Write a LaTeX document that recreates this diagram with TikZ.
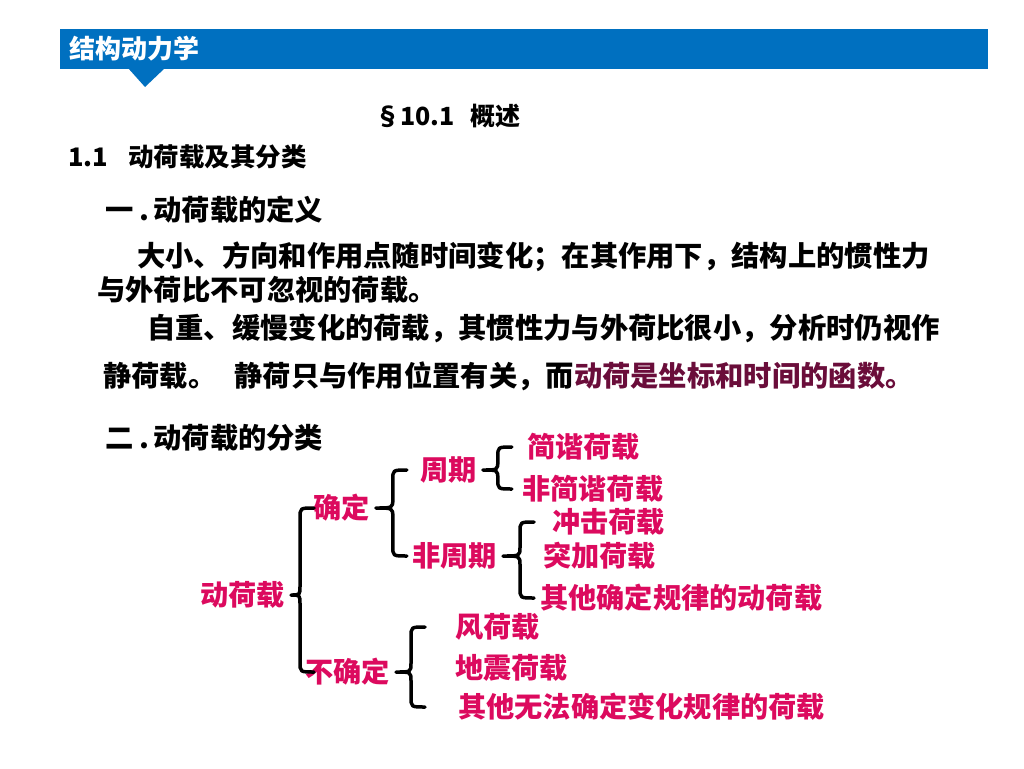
\documentclass[tikz,border=0pt]{standalone}
\usepackage{fontspec}
\setmainfont{Noto Sans CJK SC}
\usepackage{xcolor}
\usetikzlibrary{calc}

\definecolor{headblue}{HTML}{0070C0}
\definecolor{loadpink}{HTML}{DC0A5E}
\definecolor{dynmaroon}{HTML}{6A0D3A}

\tikzset{
  body/.style={anchor=west, inner sep=0pt, font=\fontsize{28.3}{34}\selectfont\bfseries},
  tree/.style={anchor=west, inner sep=0pt, text=loadpink, font=\fontsize{28.2}{34}\selectfont\bfseries},
  brace line/.style={line width=3.5pt, line cap=round, line join=round},
}

% brace from a parent node to its first and last child
\newcommand{\loadbrace}[4][15]{%
  \draw[brace line] let \p1=($(#2.east)+(6pt,0pt)$), \p2=(#3.west), \p3=(#4.west) in
    (\x1+#1pt+14pt,\y2) .. controls (\x1+#1pt,\y2) .. (\x1+#1pt,\y2-10pt)
    -- (\x1+#1pt,\y1+9pt) .. controls (\x1+#1pt,\y1) .. (\p1)
    .. controls (\x1+#1pt,\y1) .. (\x1+#1pt,\y1-9pt)
    -- (\x1+#1pt,\y3+10pt) .. controls (\x1+#1pt,\y3) .. (\x1+#1pt+14pt,\y3);}

\begin{document}
\begin{tikzpicture}[x=1pt, y=-1pt]
  \useasboundingbox[fill=white] (0,0) rectangle (1024,768);

  % header bar
  \fill[headblue] (60,29) rectangle (988,69);
  \fill[headblue] (128,68) -- (165,68) -- (145,87) -- cycle;
  \node[anchor=west, inner sep=0pt, text=white, font=\fontsize{26}{30}\selectfont\bfseries]
    (head) at (69,49) {结构动力学};

  \node[body, font=\fontsize{25}{28}\selectfont\bfseries] (sec) at (375,116) {§10.1\hspace{16pt}概述};
  \node[body, font=\fontsize{25.5}{28}\selectfont\bfseries] (sub) at (68,157) {1.1\hspace{20pt}动荷载及其分类};
  \node[body] (def) at (105,210) {一\hspace{6pt}.\hspace{4pt}动荷载的定义};

  \node[body] (l1) at (137,257) {大小、方向和作用点随时间变化；在其作用下，结构上的惯性力};
  \node[body] (l2) at (97,290) {与外荷比不可忽视的荷载。};
  \node[body] (l3) at (147,328) {自重、缓慢变化的荷载，其惯性力与外荷比很小，分析时仍视作};
  \node[body] (l4) at (103,376) {静荷载。\hspace{18pt}静荷只与作用位置有关，而\textcolor{dynmaroon}{动荷是坐标和时间的函数。}};

  \node[body] (cls) at (105,438) {二\hspace{6pt}.\hspace{4pt}动荷载的分类};

  % classification tree
  \node[tree] (dyn) at (200,595) {动荷载};
  \node[tree] (det) at (313,508) {确定};
  \node[tree] (undet) at (305,672) {不确定};
  \node[tree] (per) at (420,470) {周期};
  \node[tree] (aper) at (412,556) {非周期};
  \node[tree] (harm) at (527,447) {简谐荷载};
  \node[tree] (nharm) at (522,489) {非简谐荷载};
  \node[tree] (impact) at (552,522) {冲击荷载};
  \node[tree] (sudden) at (543,556) {突加荷载};
  \node[tree] (otherdet) at (540,598) {其他确定规律的动荷载};
  \node[tree] (wind) at (455,627) {风荷载};
  \node[tree] (quake) at (455,668) {地震荷载};
  \node[tree] (otherund) at (458,707) {其他无法确定变化规律的荷载};

  \loadbrace[9]{dyn}{det}{undet}
  \loadbrace[17]{det}{per}{aper}
  \loadbrace[15]{per}{harm}{nharm}
  \loadbrace[17]{aper}{impact}{otherdet}
  \loadbrace[15]{undet}{wind}{otherund}
\end{tikzpicture}
\end{document}
